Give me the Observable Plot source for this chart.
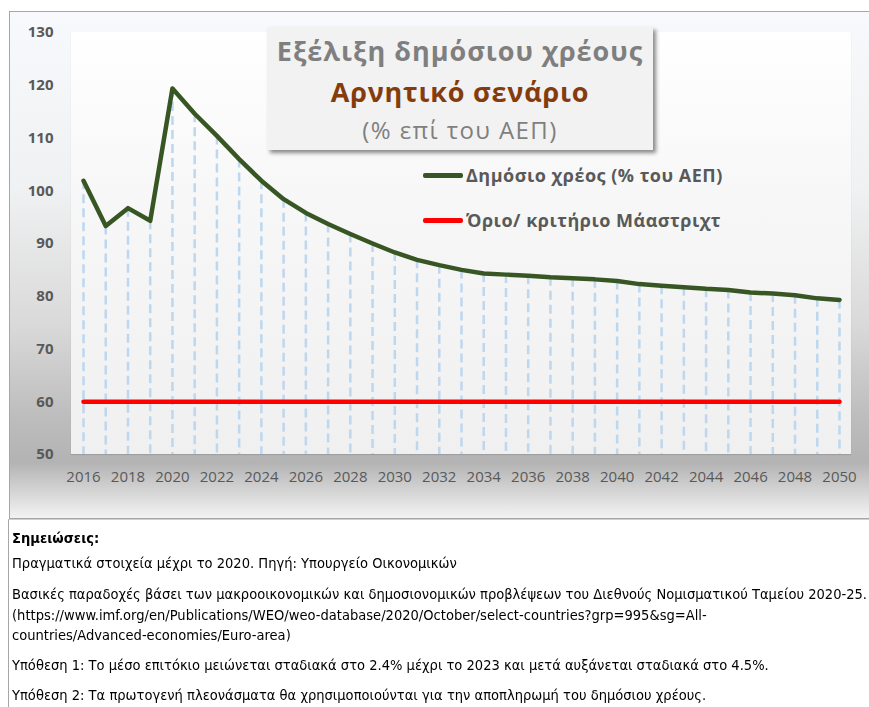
<!DOCTYPE html>
<html><head><meta charset="utf-8">
<script src="https://cdn.jsdelivr.net/npm/d3@7"></script>
<script src="https://cdn.jsdelivr.net/npm/@observablehq/plot@0.6"></script>
<style>
body{margin:0;background:#fff;}
#wrap{position:relative;width:869px;height:707px;overflow:hidden;font-family:"Open Sans",sans-serif;color:#595959;}
#frame{position:absolute;left:9px;top:11px;width:880px;height:508px;border:1px solid #a6a6a6;box-sizing:border-box;
 background:linear-gradient(to bottom,#f7f9fc 0%,#f0f1f2 35%,#d9d9d9 62%,#bdbdbd 80%,#b3b3b3 89%,#d6d6d6 95%,#f3f3f3 100%);}
#plotbg{position:absolute;left:71px;top:32px;width:780px;height:422px;background:linear-gradient(to bottom,#ffffff 0%,#f7f7f7 40%,#f0f0f0 100%);box-shadow:0 1px 1px rgba(0,0,0,0.12);}
#chart{position:absolute;left:0;top:0;}
#chart svg g[aria-label^="y-axis"] text{font-weight:bold;}
#titlebox{position:absolute;left:267px;top:27px;width:386px;height:123px;background:#f2f2f2;box-shadow:3px 3px 4px rgba(0,0,0,0.45);text-align:center;}
#titlebox .t1{position:absolute;left:0;right:0;top:6px;font-size:27px;letter-spacing:1px;font-weight:bold;color:#7f7f7f;line-height:36px;white-space:nowrap;}
#titlebox .t2{position:absolute;left:0;right:0;top:47px;font-size:27px;letter-spacing:0.8px;font-weight:bold;color:#843c0c;line-height:36px;white-space:nowrap;}
#titlebox .t3{position:absolute;left:0;right:0;top:87px;font-size:24px;letter-spacing:1.4px;font-weight:normal;color:#7f7f7f;line-height:32px;white-space:nowrap;}
.leg{position:absolute;left:423px;height:24px;white-space:nowrap;font-size:18px;letter-spacing:0.5px;font-weight:bold;color:#595959;}
.leg .sw{position:absolute;left:0;top:10px;width:40px;height:5px;border-radius:2px;}
.leg .lt{position:absolute;left:43px;top:0;line-height:24px;}
#notes{position:absolute;left:8px;top:519px;width:870px;height:200px;border-left:1px solid #a6a6a6;border-top:1px solid #d0d0d0;font-family:"Liberation Sans Narrow","DejaVu Sans Condensed","Open Sans",sans-serif;font-size:14px;color:#000;}
#notes .in{position:absolute;left:3px;top:0;transform-origin:0 0;}
#notes .ln{position:absolute;left:0;white-space:nowrap;line-height:18px;}
</style></head>
<body>
<div id="wrap">
  <div id="frame"></div>
  <div id="plotbg"></div>
  <div id="chart"></div>
  <div id="titlebox"><div class="t1"></div><div class="t2"></div><div class="t3"></div></div>
  <div class="leg" id="leg1" style="top:163px"><div class="sw"></div><div class="lt"></div></div>
  <div class="leg" id="leg2" style="top:208px"><div class="sw"></div><div class="lt"></div></div>
  <div id="notes"><div class="in"></div></div>
</div>
<script>
// ---- data ----
const years = [2016,2017,2018,2019,2020,2021,2022,2023,2024,2025,2026,2027,2028,2029,2030,2031,2032,2033,2034,2035,2036,2037,2038,2039,2040,2041,2042,2043,2044,2045,2046,2047,2048,2049,2050];
const debt = [101.9,93.3,96.7,94.3,119.4,114.6,110.4,106.0,101.9,98.4,95.8,93.7,91.8,90.0,88.3,86.9,85.9,85.0,84.3,84.1,83.9,83.6,83.4,83.2,82.9,82.3,82.0,81.7,81.4,81.2,80.7,80.5,80.2,79.6,79.3];
const maastricht = [60,60,60,60,60,60,60,60,60,60,60,60,60,60,60,60,60,60,60,60,60,60,60,60,60,60,60,60,60,60,60,60,60,60,60];
const xTicks = [2016,2018,2020,2022,2024,2026,2028,2030,2032,2034,2036,2038,2040,2042,2044,2046,2048,2050];
const yTicks = [50,60,70,80,90,100,110,120,130];
const titleLines = ["Εξέλιξη δημόσιου χρέους","Αρνητικό σενάριο","(% επί του ΑΕΠ)"];
const seriesNames = ["Δημόσιο χρέος (% του ΑΕΠ)","Όριο/ κριτήριο Μάαστριχτ"];
const seriesColors = ["#375623","#ff0000"];
const notes = [
 "Σημειώσεις:",
 "Πραγματικά στοιχεία μέχρι το 2020. Πηγή: Υπουργείο Οικονομικών",
 "Βασικές παραδοχές βάσει των μακροοικονομικών και δημοσιονομικών προβλέψεων του Διεθνούς Νομισματικού Ταμείου 2020-25.",
 "(https://www.imf.org/en/Publications/WEO/weo-database/2020/October/select-countries?grp=995&sg=All-",
 "countries/Advanced-economies/Euro-area)",
 "Υπόθεση 1: Το μέσο επιτόκιο μειώνεται σταδιακά στο 2.4% μέχρι το 2023 και μετά αυξάνεται σταδιακά στο 4.5%.",
 "Υπόθεση 2: Τα πρωτογενή πλεονάσματα θα χρησιμοποιούνται για την αποπληρωμή του δημόσιου χρέους."
];
const noteTops = [9, 34, 65, 86, 106, 136, 166];

// ---- chart ----
const rows = years.map((year, i) => ({year, debt: debt[i], limit: maastricht[i]}));
const chart = Plot.plot({
  width: 869, height: 520,
  marginLeft: 71, marginRight: 18, marginTop: 32, marginBottom: 66,
  style: {background: "transparent", fontFamily: "Open Sans, sans-serif", fontSize: "15px", color: "#595959", overflow: "visible"},
  x: {domain: [2015.46, 2050.54], ticks: xTicks, tickSize: 0, tickPadding: 17, tickFormat: d => String(d), label: null},
  y: {domain: [50, 130], ticks: yTicks, tickSize: 0, tickPadding: 18, label: null},
  marks: [
    Plot.ruleX(rows, {x: "year", y1: "debt", y2: 50, stroke: "#bdd7ee", strokeWidth: 2.5, strokeDasharray: "9,5"}),
    Plot.line(rows, {x: "year", y: "limit", stroke: seriesColors[1], strokeWidth: 4.5}),
    Plot.line(rows, {x: "year", y: "debt", stroke: seriesColors[0], strokeWidth: 4.5, strokeLinejoin: "round"})
  ]
});
document.getElementById("chart").appendChild(chart);

// ---- title & legend ----
const tb = document.getElementById("titlebox");
tb.querySelector(".t1").textContent = titleLines[0];
tb.querySelector(".t2").textContent = titleLines[1];
tb.querySelector(".t3").textContent = titleLines[2];
["leg1","leg2"].forEach((id, i) => {
  const el = document.getElementById(id);
  el.querySelector(".sw").style.background = seriesColors[i];
  el.querySelector(".lt").textContent = seriesNames[i];
});

// ---- notes ----
const inner = document.querySelector("#notes .in");
notes.forEach((t, i) => {
  const d = document.createElement("div");
  d.className = "ln";
  d.style.top = noteTops[i] + "px";
  if (i === 0) d.style.fontWeight = "bold";
  d.textContent = t;
  inner.appendChild(d);
});
const ref = inner.children[2];
const w = ref.getBoundingClientRect().width;
const k = 855 / w;
inner.style.transform = "scaleX(" + k + ")";
</script>
</body></html>
